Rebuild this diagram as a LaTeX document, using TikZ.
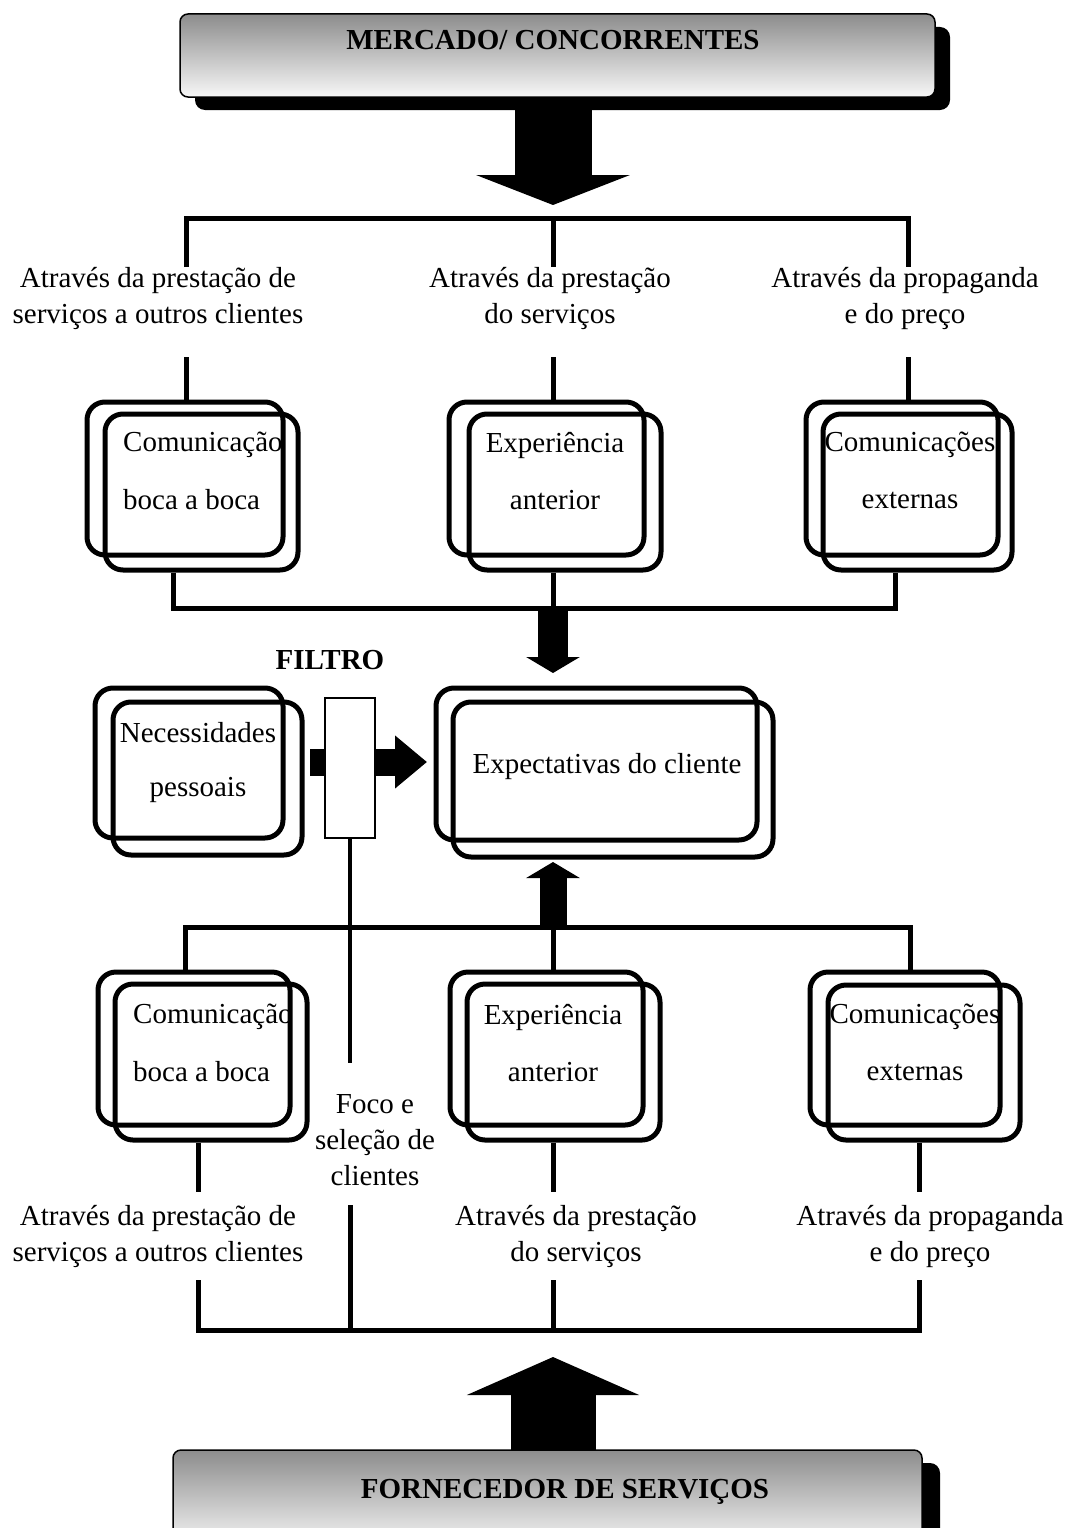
\documentclass[tikz,border=0pt]{standalone}
\usepackage{fontspec}
\setmainfont{Liberation Serif}
\usetikzlibrary{arrows.meta}
\begin{document}
\begin{tikzpicture}[x=1pt,y=-1pt,
  wire/.style={line width=5pt},
  frame/.style={draw, line width=5pt, rounded corners=18pt, rectangle, inner sep=0pt},
  txt/.style={font=\fontsize{29}{36}\selectfont, inner sep=0pt},
  lbl/.style={font=\fontsize{29}{36}\selectfont, align=center, inner sep=0pt},
  title/.style={font=\fontsize{29}{34}\selectfont\bfseries, inner sep=0pt},
  banner/.style={rectangle, draw=black, line width=1.5pt, rounded corners=8pt,
    top color=black!45, bottom color=black!3, inner sep=0pt},
  bannershadow/.style={rectangle, fill=black, rounded corners=10pt, inner sep=0pt},
  filterbox/.style={rectangle, draw=black, fill=white, line width=1.5pt, inner sep=0pt},
  block/.style={line width=#1},
]
\useasboundingbox (0,0) rectangle (1071,1528);

% ---------- top banner and its arrow ----------
\coordinate (arrTop) at (553,205);
\node[bannershadow, minimum width=755, minimum height=83] (mktsh) at (572.5,68.5) {};
\draw[line width=77pt, -{Triangle[width=153pt,length=30pt]}] (553,97) -- (arrTop);
\node[banner, minimum width=755, minimum height=83] (mkt) at (557.5,55.5) {};
\node[title] (mkttxt) at (553,40) {MERCADO/ CONCORRENTES};

% ---------- upper distribution bus ----------
\coordinate (tbL) at (186,218); \coordinate (tbM) at (553,218); \coordinate (tbR) at (908,218);
\coordinate (tL1) at (186,267); \coordinate (tM1) at (553,267); \coordinate (tR1) at (908,267);
\coordinate (tL2) at (186,357); \coordinate (tM2) at (553,357); \coordinate (tR2) at (908,357);
\draw[wire] (tL1) -- (tbL) -- (tbR) -- (tR1);
\draw[wire] (tbM) -- (tM1);

\node[lbl] (t1) at (158,299) {Através da prestação de\\serviços a outros clientes};
\node[lbl] (t2) at (550,299) {Através da prestação\\do serviços};
\node[lbl] (t3) at (905,299) {Através da propaganda\\e do preço};

% ---------- upper row of double boxes ----------
\node[frame, minimum width=196, minimum height=153] (c1a) at (185,478.5) {};
\node[frame, minimum width=193, minimum height=156] (c1b) at (201.5,492) {};
\node[frame, minimum width=195, minimum height=153] (c2a) at (546.5,478.5) {};
\node[frame, minimum width=192, minimum height=156] (c2b) at (565,492) {};
\node[frame, minimum width=192, minimum height=153] (c3a) at (902,478.5) {};
\node[frame, minimum width=189, minimum height=156] (c3b) at (917.5,492) {};

\draw[wire] (tL2) -- (tL2 |- c1a.north);
\draw[wire] (tM2) -- (tM2 |- c2a.north);
\draw[wire] (tR2) -- (tR2 |- c3a.north);

\begin{scope}
  \clip (0,380) rectangle (280.5,600);
  \node[txt, anchor=west] (c1t) at (123,445) {Comunicação};
\end{scope}
\node[txt, anchor=west] (c1u) at (123,500) {boca a boca};
\node[txt] (c2t) at (555,445) {Experiência};
\node[txt] (c2u) at (555,500) {anterior};
\begin{scope}
  \clip (825.5,380) rectangle (995.5,600);
  \node[txt] (c3t) at (910,445) {Comunicações};
\end{scope}
\node[txt] (c3u) at (910,500) {externas};

% ---------- collector into the expectations ----------
\coordinate (b1L) at (173,608); \coordinate (b1M) at (553,608); \coordinate (b1R) at (895,608);
\coordinate (arrMid) at (553,673);
\draw[wire] (b1L |- c1b.south) -- (b1L) -- (b1R) -- (b1R |- c3b.south);
\draw[wire] (b1M |- c2b.south) -- (b1M);
\draw[line width=30pt, -{Triangle[width=53pt,length=16pt]}] (b1M) -- (arrMid);

% ---------- middle row ----------
\node[title] (filtro) at (330,660) {FILTRO};
\node[frame, minimum width=188, minimum height=150] (nA) at (189,763) {};
\node[frame, minimum width=189, minimum height=153] (nB) at (207.5,778.5) {};
\node[txt] (nt) at (198,733) {Necessidades};
\node[txt] (nu) at (198,790) {pessoais};

\coordinate (stubL) at (310,762); \coordinate (stubR) at (326,762);
\coordinate (arrL) at (374,762); \coordinate (arrR) at (427,762);
\draw[line width=27pt] (stubL) -- (stubR);
\draw[line width=27pt, -{Triangle[width=51pt,length=32pt]}] (arrL) -- (arrR);
\node[filterbox, minimum width=50, minimum height=140] (filt) at (350,768) {};

\node[frame, minimum width=321, minimum height=152] (eA) at (596.5,764) {};
\node[frame, minimum width=320, minimum height=155] (eB) at (613,779.5) {};
\node[txt] (et) at (607,767) {Expectativas do cliente};

\coordinate (fend) at (350,1063);
\draw[line width=4pt] (filt.south) -- (fend);

% ---------- lower distribution bus ----------
\coordinate (b2L) at (185,927); \coordinate (b2M) at (553,927); \coordinate (b2R) at (910,927);
\coordinate (arrUp) at (553,862);

\node[frame, minimum width=192, minimum height=153] (d1a) at (194,1048.5) {};
\node[frame, minimum width=192, minimum height=156] (d1b) at (211,1062) {};
\node[frame, minimum width=193, minimum height=153] (d2a) at (546.5,1048.5) {};
\node[frame, minimum width=193, minimum height=156] (d2b) at (563.5,1062) {};
\node[frame, minimum width=190, minimum height=153] (d3a) at (905,1048.5) {};
\node[frame, minimum width=192, minimum height=155] (d3b) at (924,1062.5) {};

\draw[wire] (b2L |- d1a.north) -- (b2L) -- (b2R) -- (b2R |- d3a.north);
\draw[wire] (b2M |- d2a.north) -- (b2M);
\draw[line width=27pt, -{Triangle[width=53pt,length=16pt]}] (b2M) -- (arrUp);

\begin{scope}
  \clip (0,950) rectangle (287.5,1160);
  \node[txt, anchor=west] (d1t) at (133,1017) {Comunicação};
\end{scope}
\node[txt, anchor=west] (d1u) at (133,1072) {boca a boca};
\node[txt] (d2t) at (553,1017) {Experiência};
\node[txt] (d2u) at (553,1072) {anterior};
\begin{scope}
  \clip (830.5,950) rectangle (997.5,1160);
  \node[txt] (d3t) at (915,1017) {Comunicações};
\end{scope}
\node[txt] (d3u) at (915,1072) {externas};

\node[lbl] (foco) at (375,1140) {Foco e\\seleção de\\clientes};

% ---------- bottom collector ----------
\coordinate (b3L) at (198,1330); \coordinate (b3F) at (350,1330);
\coordinate (b3M) at (553,1330); \coordinate (b3R) at (919,1330);
\coordinate (uL) at (198,1192); \coordinate (uM) at (553,1192); \coordinate (uR) at (919,1192);
\coordinate (lL) at (198,1280); \coordinate (lM) at (553,1280); \coordinate (lR) at (919,1280);
\coordinate (lF) at (350,1205);
\draw[wire] (uL |- d1b.south) -- (uL);
\draw[wire] (uM |- d2b.south) -- (uM);
\draw[wire] (uR |- d3b.south) -- (uR);
\draw[wire] (lL) -- (b3L) -- (b3R) -- (lR);
\draw[wire] (lM) -- (b3M);
\draw[wire] (lF) -- (b3F);

\node[lbl] (s1) at (158,1236) {Através da prestação de\\serviços a outros clientes};
\node[lbl] (s2) at (576,1236) {Através da prestação\\do serviços};
\node[lbl] (s3) at (930,1236) {Através da propaganda\\e do preço};

% ---------- bottom banner and its arrow ----------
\coordinate (arrBot) at (553,1357);
\node[bannershadow, minimum width=749, minimum height=98] (fornsh) at (565.5,1512) {};
\draw[line width=85pt, -{Triangle[width=171pt,length=38pt]}] (553,1450) -- (arrBot);
\node[banner, minimum width=749, minimum height=98] (forn) at (547.5,1499) {};
\node[title] (forntxt) at (565,1492) {FORNECEDOR DE SERVIÇOS};
\end{tikzpicture}
\end{document}
